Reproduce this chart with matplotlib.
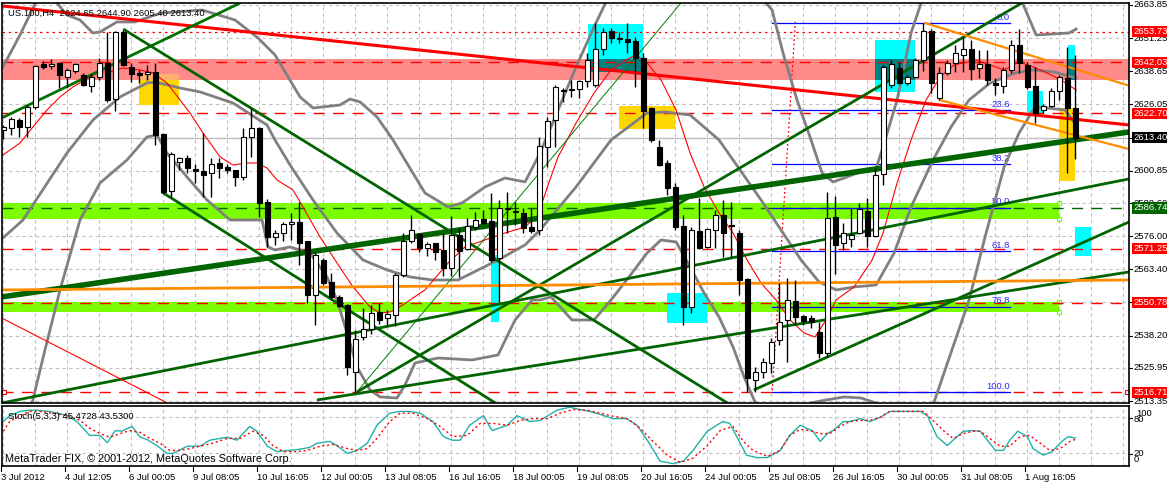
import numpy as np
import matplotlib.pyplot as plt
from matplotlib.patches import Rectangle

# ---- candles (US.100 H4), one value per bar ----
opens = [2616.35, 2617.0, 2620.15, 2617.5, 2625.1, 2641.4, 2640.7, 2641.8, 2636.6, 2638.9,
         2637.25, 2633.1, 2636.4, 2641.9, 2628.0, 2653.7, 2640.2, 2637.9, 2637.5, 2638.5,
         2614.8, 2593.3, 2604.3, 2605.6, 2601.4, 2600.9, 2599.9, 2603.9, 2602.4, 2601.15,
         2598.6, 2613.6, 2617.0, 2589.1, 2575.6, 2577.1, 2580.6, 2581.5, 2574.3, 2553.65,
         2566.95, 2558.7, 2552.8, 2549.85, 2524.4, 2537.6, 2540.6, 2547.3, 2544.8, 2546.05,
         2561.25, 2574.3, 2576.8, 2571.4, 2573.3, 2570.75, 2563.8, 2576.4, 2571.0, 2579.6,
         2582.5, 2581.8, 2567.6, 2586.2, 2585.7, 2584.7, 2579.6, 2578.35, 2610.0, 2620.15,
         2631.2, 2631.55, 2631.8, 2635.1, 2633.45, 2647.1, 2654.1, 2651.0, 2650.9, 2650.3,
         2643.6, 2624.7, 2610.0, 2603.8, 2594.7, 2579.9, 2549.1, 2578.0, 2571.9, 2578.35,
         2584.05, 2580.2, 2577.2, 2559.7, 2521.35, 2524.4, 2527.8, 2536.55, 2544.15, 2551.4,
         2545.7, 2544.9, 2539.6, 2531.6, 2583.3, 2573.4, 2574.9, 2577.2, 2585.6, 2576.1,
         2599.6, 2633.45, 2639.9, 2634.2, 2636.5, 2642.95, 2654.0, 2628.5, 2638.0, 2641.8,
         2644.85, 2647.1, 2639.9, 2641.4, 2634.2, 2633.1, 2639.15, 2648.65, 2641.05, 2633.1,
         2623.95, 2625.5, 2631.2, 2636.1, 2624.65]
highs = [2618.25, 2621.4, 2620.9, 2625.85, 2641.05, 2642.7, 2643.3, 2642.3, 2640.0, 2641.9,
         2638.1, 2637.6, 2643.6, 2653.7, 2654.1, 2654.35, 2641.9, 2639.15, 2641.05, 2641.7,
         2615.2, 2608.1, 2606.2, 2606.85, 2603.3, 2615.1, 2605.6, 2605.6, 2603.4, 2601.15,
         2617.0, 2624.6, 2617.6, 2590.0, 2578.35, 2581.5, 2584.7, 2589.1, 2574.3, 2570.1,
         2567.6, 2562.1, 2553.65, 2550.2, 2540.35, 2548.6, 2549.85, 2550.5, 2547.95, 2561.9,
         2577.1, 2584.05, 2577.2, 2573.9, 2573.3, 2577.2, 2583.65, 2579.1, 2582.9, 2585.3,
         2585.95, 2592.3, 2589.75, 2592.9, 2589.1, 2586.6, 2586.6, 2613.8, 2621.3, 2633.45,
         2632.3, 2635.35, 2635.35, 2645.6, 2657.0, 2655.1, 2655.1, 2653.6, 2657.0, 2651.8,
         2645.6, 2625.1, 2612.55, 2604.95, 2596.2, 2584.05, 2579.5, 2590.5, 2579.1, 2585.95,
         2589.75, 2589.0, 2578.35, 2560.1, 2526.3, 2529.7, 2537.3, 2558.2, 2560.1, 2559.35,
         2546.05, 2546.05, 2543.4, 2592.8, 2591.25, 2581.0, 2586.7, 2588.6, 2590.5, 2601.9,
         2641.05, 2642.95, 2642.2, 2637.25, 2643.7, 2657.0, 2654.7, 2640.3, 2642.95, 2648.65,
         2651.7, 2650.55, 2646.75, 2646.75, 2636.1, 2640.3, 2650.55, 2654.7, 2642.2, 2640.3,
         2626.2, 2632.3, 2637.25, 2647.9, 2644.90]
lows = [2612.9, 2614.45, 2613.7, 2613.8, 2624.3, 2639.5, 2639.5, 2632.3, 2632.8, 2638.1,
        2633.1, 2630.9, 2635.35, 2627.1, 2623.7, 2640.7, 2634.7, 2634.1, 2635.35, 2610.65,
        2592.3, 2591.0, 2601.15, 2600.1, 2596.3, 2591.0, 2590.8, 2598.0, 2600.1, 2595.1,
        2597.35, 2606.2, 2583.4, 2572.0, 2572.65, 2574.3, 2574.55, 2565.05, 2550.5, 2542.25,
        2557.45, 2551.75, 2549.0, 2523.25, 2516.8, 2536.55, 2538.8, 2542.6, 2541.9, 2541.9,
        2560.6, 2573.3, 2570.0, 2568.5, 2566.95, 2560.9, 2560.9, 2560.6, 2570.75, 2578.35,
        2580.8, 2566.3, 2551.1, 2577.1, 2580.25, 2577.1, 2577.1, 2576.45, 2602.3, 2609.9,
        2627.0, 2628.9, 2628.5, 2632.7, 2632.7, 2644.85, 2649.4, 2649.4, 2645.6, 2632.8,
        2617.1, 2611.8, 2602.5, 2591.7, 2578.35, 2542.25, 2546.8, 2571.0, 2571.5, 2571.5,
        2568.1, 2568.1, 2553.65, 2516.8, 2516.8, 2522.1, 2524.0, 2534.65, 2528.2, 2542.25,
        2542.25, 2541.1, 2529.7, 2530.1, 2561.65, 2570.75, 2571.9, 2576.8, 2571.9, 2575.7,
        2595.45, 2632.3, 2633.8, 2633.45, 2636.1, 2638.8, 2630.4, 2627.75, 2637.25, 2638.4,
        2638.4, 2635.35, 2636.1, 2633.45, 2629.65, 2630.4, 2638.0, 2638.0, 2631.9, 2619.0,
        2622.8, 2625.1, 2627.75, 2600.0, 2605.40]
closes = [2617.5, 2620.5, 2617.6, 2625.1, 2640.7, 2640.4, 2641.4, 2637.25, 2639.15, 2641.4,
          2633.45, 2636.5, 2641.9, 2627.75, 2653.7, 2641.05, 2637.6, 2637.25, 2638.5, 2614.45,
          2592.9, 2607.2, 2605.6, 2601.8, 2600.9, 2599.25, 2603.4, 2601.8, 2601.15, 2598.6,
          2613.6, 2617.0, 2588.5, 2575.8, 2577.1, 2580.6, 2581.5, 2573.5, 2553.65, 2568.85,
          2558.3, 2553.0, 2549.5, 2526.4, 2536.9, 2540.6, 2546.9, 2544.15, 2546.3, 2561.25,
          2574.3, 2578.35, 2571.4, 2573.0, 2570.1, 2563.8, 2576.4, 2570.5, 2579.9, 2582.15,
          2581.1, 2566.95, 2586.6, 2586.6, 2585.1, 2579.0, 2578.1, 2610.3, 2619.9, 2632.7,
          2631.4, 2631.6, 2635.1, 2642.95, 2647.1, 2653.6, 2651.2, 2650.9, 2649.9, 2643.6,
          2623.6, 2612.55, 2603.05, 2594.2, 2579.5, 2549.1, 2578.35, 2571.5, 2578.7, 2584.05,
          2577.2, 2580.0, 2559.35, 2522.1, 2524.4, 2528.2, 2535.8, 2543.4, 2551.75, 2545.3,
          2543.8, 2543.4, 2531.6, 2582.9, 2572.65, 2577.2, 2576.45, 2586.3, 2576.1, 2599.25,
          2640.3, 2641.4, 2634.2, 2636.5, 2642.95, 2654.0, 2634.2, 2638.0, 2641.8, 2645.6,
          2647.1, 2639.5, 2641.4, 2635.35, 2633.45, 2639.15, 2648.65, 2641.8, 2632.7, 2622.8,
          2625.5, 2631.2, 2636.5, 2624.7, 2613.40]

# ---- Bollinger bands (20,2) ----
bbu_x = [-0.04, 2.09, 4.21, 5.21, 6.71, 7.96, 9.59, 11.21, 12.09, 14.21, 16.46, 18.96, 19.84,
         24.84, 28.96, 31.84, 33.96, 37.09, 38.71, 42.09, 43.34, 44.59, 46.71, 48.71, 50.21,
         52.71, 55.59, 57.34, 60.21, 62.71, 65.21, 67.09, 69.34, 71.59, 73.84, 75.34, 79.59,
         87.09, 95.21, 96.09, 97.46, 99.21, 100.96, 102.34, 103.71, 105.46, 107.71, 109.09,
         109.96, 111.71, 113.46, 114.84, 119.59, 124.59, 127.34, 129.09, 133.21, 134.09]
bbu = [2640.3, 2652.45, 2665.75, 2670.3, 2664.6, 2660.05, 2658.15, 2653.2, 2653.6, 2657.4,
       2657.4, 2660.05, 2660.8, 2661.95, 2658.15, 2651.3, 2644.85, 2628.9, 2624.7, 2625.85,
       2628.1, 2627.0, 2621.3, 2612.55, 2604.95, 2592.4, 2587.1, 2588.6, 2594.7, 2598.1,
       2596.6, 2607.6, 2623.95, 2640.3, 2655.5, 2665.0, 2688.55, 2688.55, 2665.0, 2661.95,
       2645.6, 2627.75, 2612.55, 2600.0, 2596.6, 2598.5, 2601.15, 2601.9, 2609.9, 2627.75,
       2653.2, 2665.75, 2692.35, 2677.15, 2665.0, 2652.45, 2653.2, 2654.7]
bbm_x = [-0.04, 2.46, 7.96, 11.21, 14.59, 17.96, 18.96, 22.09, 24.59, 28.71, 32.96, 33.96,
         35.84, 38.71, 41.71, 44.96, 47.96, 50.84, 53.59, 56.84, 59.34, 61.84, 65.21, 67.09,
         71.59, 75.96, 80.46, 82.71, 85.84, 89.46, 92.09, 94.71, 97.46, 99.71, 101.96, 104.09,
         106.34, 109.09, 111.34, 113.46, 116.21, 118.46, 120.71, 123.34, 126.46, 128.71,
         131.34, 134.09]
bbm = [2575.3, 2582.15, 2607.6, 2620.15, 2628.9, 2634.2, 2634.6, 2632.3, 2630.8, 2626.6,
       2618.25, 2612.55, 2603.05, 2589.75, 2577.2, 2566.95, 2563.15, 2560.5, 2559.35, 2559.35,
       2563.15, 2566.95, 2572.65, 2578.35, 2594.7, 2612.55, 2622.8, 2623.2, 2622.05, 2612.55,
       2601.15, 2589.75, 2577.2, 2566.95, 2558.6, 2555.55, 2556.7, 2557.45, 2569.6, 2587.1,
       2604.95, 2617.5, 2627.75, 2634.2, 2638.0, 2639.15, 2638.4, 2636.1]
bbl_x = [3.09, 5.21, 7.09, 8.34, 9.59, 12.09, 15.46, 17.96, 19.21, 20.46, 22.96, 25.46,
         28.34, 32.34, 33.09, 33.96, 35.84, 38.34, 40.46, 41.71, 42.96, 44.21, 45.84, 47.09,
         49.21, 50.21, 51.46, 54.34, 58.59, 61.84, 63.96, 66.09, 67.09, 68.46, 71.09, 73.84,
         75.96, 78.21, 80.46, 82.21, 84.09, 85.84, 87.59, 89.46, 91.21, 92.59, 93.84, 95.21,
         98.34, 100.84, 102.84, 105.09, 107.21, 109.09, 112.09, 114.59, 116.21, 120.71,
         122.84, 125.09, 126.96, 128.96, 130.46, 132.71, 134.09]
bbl = [2506.15, 2532.75, 2555.55, 2568.85, 2582.15, 2596.2, 2604.95, 2613.7, 2614.45, 2607.6,
       2598.5, 2589.75, 2582.15, 2582.15, 2571.9, 2570.75, 2571.9, 2569.6, 2560.5, 2551.75,
       2539.2, 2526.3, 2517.55, 2514.9, 2514.5, 2519.45, 2527.8, 2529.7, 2528.95, 2530.85,
       2544.15, 2551.75, 2551.75, 2552.9, 2544.15, 2544.15, 2551.75, 2560.5, 2569.6, 2574.55,
       2573.8, 2564.3, 2554.4, 2545.3, 2533.9, 2522.5, 2513.75, 2506.15, 2506.15, 2512.6,
       2513.75, 2514.9, 2514.5, 2512.6, 2506.15, 2506.15, 2511.85, 2551.75, 2577.2, 2602.3,
       2615.2, 2625.1, 2624.7, 2623.95, 2618.25]

# ---- red moving average ----
ma_x = [-0.04, 2.09, 3.71, 5.46, 7.09, 8.71, 10.84, 12.09, 13.34, 14.96, 17.09, 18.71, 20.46,
        22.09, 23.34, 24.96, 26.21, 27.09, 28.71, 30.46, 31.71, 32.96, 34.21, 36.21, 37.09,
        39.59, 41.71, 43.71, 45.84, 47.09, 48.34, 49.96, 50.84, 52.71, 55.59, 57.71, 60.21,
        62.71, 65.21, 66.84, 68.09, 69.34, 71.59, 73.84, 75.96, 77.84, 79.09, 80.46, 82.21,
        84.09, 85.84, 87.59, 89.46, 91.21, 92.96, 94.71, 96.59, 98.34, 100.09, 101.46, 102.84,
        104.09, 106.34, 108.59, 109.96, 111.71, 113.46, 115.34, 117.09, 118.84, 121.59,
        123.34, 125.09, 126.96, 128.71, 130.46, 132.21, 134.09]
ma = [2606.85, 2611.4, 2617.5, 2623.95, 2628.9, 2632.7, 2636.5, 2638.4, 2638.4, 2639.9,
      2639.15, 2638.0, 2634.2, 2627.75, 2622.8, 2615.2, 2609.9, 2606.1, 2603.05, 2603.8,
      2603.8, 2601.9, 2597.35, 2593.55, 2589.0, 2575.7, 2565.8, 2556.7, 2549.1, 2546.8,
      2547.2, 2549.85, 2551.75, 2555.55, 2565.8, 2571.9, 2574.55, 2577.2, 2579.5, 2584.05,
      2595.45, 2606.1, 2619.0, 2630.4, 2639.15, 2642.95, 2644.85, 2641.8, 2635.35, 2623.95,
      2607.6, 2594.7, 2584.8, 2577.2, 2566.95, 2558.2, 2551.75, 2544.15, 2539.2, 2537.7,
      2544.15, 2551.75, 2556.7, 2566.95, 2577.2, 2596.2, 2612.55, 2627.75, 2636.5, 2641.05,
      2642.95, 2641.05, 2639.15, 2642.2, 2640.3, 2638.0, 2635.35, 2631.55]

# ---- Stochastic (5,3,3) ----
k_x = [0, 0.8, 2.1, 3.3, 4.2, 5.8, 8.0, 9.2, 10.8, 12.1, 13.0, 14.0, 14.8, 16.1, 17.1, 18.0,
       19.2, 20.5, 21.2, 23.0, 24.6, 25.8, 28.0, 29.2, 30.8, 31.7, 33.0, 34.2, 35.8, 37.1,
       38.3, 39.2, 40.8, 41.7, 43.0, 44.2, 45.5, 46.7, 48.3, 49.6, 50.8, 52.1, 53.7, 55.0,
       56.1, 57.1, 58.3, 60.0, 61.1, 63.0, 64.2, 65.8, 67.1, 69.2, 70.8, 72.1, 73.3, 74.6,
       76.2, 77.9, 79.2, 80.5, 82.1, 83.7, 85.0, 86.2, 88.0, 89.9, 90.8, 92.9, 94.2, 95.5,
       97.1, 98.3, 99.6, 101.2, 102.1, 103.0, 103.7, 105.0, 105.8, 107.1, 108.3, 109.6,
       110.8, 111.7, 113.0, 114.6, 115.5, 116.7, 118.0, 118.7, 120.0, 121.1, 122.1, 123.0,
       124.0, 125.0, 125.8, 126.8, 128.0, 128.7, 130.0, 131.1, 132.3, 133.1, 134]
k = [73, 83, 90, 92, 92, 90, 83, 73, 50, 50, 38, 58, 57, 65, 47, 43, 33, 20, 20, 32,
     32, 42, 47, 42, 65, 57, 32, 23, 25, 27, 30, 37, 40, 33, 20, 25, 37, 67, 87, 90,
     90, 87, 73, 48, 42, 42, 67, 83, 58, 67, 83, 73, 75, 92, 97, 93, 90, 85, 78, 78,
     67, 42, 7, 3, 7, 25, 57, 73, 70, 17, 13, 13, 25, 50, 67, 57, 40, 53, 58, 73,
     73, 78, 73, 80, 90, 90, 90, 90, 83, 48, 33, 42, 57, 58, 57, 42, 25, 25, 42, 57,
     48, 28, 17, 23, 40, 48, 45.5]
d_x = [0, 0.8, 2.1, 3.3, 4.6, 6.2, 8.0, 9.6, 10.8, 12.1, 13.3, 14.6, 15.8, 17.1, 18.3, 19.6,
       20.8, 22.1, 23.3, 24.6, 26.2, 28.0, 29.6, 31.2, 32.5, 33.7, 35.0, 36.7, 38.0, 39.6,
       41.2, 43.0, 44.2, 45.5, 46.7, 48.3, 49.6, 51.2, 53.0, 54.6, 56.2, 58.0, 59.6, 61.2,
       63.0, 64.6, 66.2, 68.0, 69.6, 71.2, 73.0, 74.6, 76.2, 78.0, 79.6, 81.2, 83.0, 84.6,
       86.2, 88.0, 89.6, 91.2, 92.5, 93.7, 95.5, 97.1, 98.3, 99.6, 100.8, 102.1, 103.3,
       104.6, 105.8, 107.1, 108.3, 109.6, 110.8, 112.1, 113.3, 115.0, 116.2, 117.5, 118.7,
       120.0, 121.2, 122.1, 123.3, 124.6, 125.8, 127.1, 128.3, 129.6, 130.8, 132.1, 133.3, 134]
d = [57, 73, 83, 90, 90, 87, 83, 75, 62, 53, 47, 53, 58, 55, 45, 37, 25, 25, 28, 32,
     37, 45, 45, 57, 50, 33, 23, 23, 25, 32, 35, 28, 25, 28, 45, 73, 87, 87, 78, 65,
     48, 50, 70, 70, 67, 75, 78, 78, 87, 93, 92, 87, 82, 78, 62, 40, 17, 5, 12, 33,
     58, 65, 40, 25, 15, 25, 50, 60, 58, 53, 53, 65, 73, 75, 75, 80, 90, 90, 90, 90,
     75, 58, 45, 53, 57, 57, 45, 32, 32, 48, 50, 37, 25, 28, 40, 43.5]

# ---- levels / labels ----
price_ticks = [2663.85, 2651.25, 2638.65, 2626.05, 2613.40, 2600.85, 2588.60, 2576.00,
               2563.40, 2550.80, 2538.20, 2525.95, 2513.35]
red_levels = [2642.03, 2622.70, 2571.25, 2550.78, 2516.71]
dotted_level = 2653.73
green_level = 2586.74
bid = 2613.40
fib_hi, fib_lo = 2656.9, 2516.71
fib_levels = [0.0, 23.6, 38.2, 50.0, 61.8, 76.8, 100.0]
stoch_labels = ["100", "80", "20", "0"]
date_labels = ["3 Jul 2012", "4 Jul 12:05", "6 Jul 00:05", "9 Jul 08:05", "10 Jul 16:05",
               "12 Jul 00:05", "13 Jul 08:05", "16 Jul 16:05", "18 Jul 00:05", "19 Jul 08:05",
               "20 Jul 16:05", "24 Jul 00:05", "25 Jul 08:05", "26 Jul 16:05", "30 Jul 00:05",
               "31 Jul 08:05", "1 Aug 16:05"]

# trend lines: (bar0, price0, bar1, price1, colour, width)
trend_lines = [
    (-0.2, 2663.5, 140.7, 2618.25, "#ff0000", 2.2),
    (-0.2, 2552.9, 140.7, 2615.6, "#006400", 4.0),
    (-0.2, 2620.9, 29.6, 2664.6, "#007000", 2.0),
    (15.0, 2654.7, 92.1, 2509.6, "#006400", 2.0),
    (-0.2, 2512.6, 140.7, 2597.75, "#006400", 2.0),
    (19.8, 2592.8, 61.5, 2512.6, "#006400", 2.0),
    (44.2, 2516.8, 84.7, 2664.6, "#008000", 0.7),
    (44.2, 2516.8, 127.3, 2664.6, "#006400", 2.0),
    (39.2, 2513.75, 140.7, 2562.4, "#006400", 2.0),
    (93.8, 2517.55, 140.7, 2581.4, "#006400", 2.0),
    (-0.2, 2555.55, 140.7, 2559.35, "#ff8c00", 2.0),
    (115.1, 2657.1, 140.7, 2633.2, "#ff8c00", 1.6),
    (117.0, 2627.75, 140.7, 2609.1, "#ff8c00", 1.6),
    (-0.2, 2544.9, 20.5, 2512.6, "#ff0000", 0.8),
]

# rectangles: (bar0, bar1, price_lo, price_hi, colour)
rects = [
    (16.96, 21.96, 2625.85, 2637.6, "#ffd700"),
    (16.96, 21.96, 2635.35, 2637.6, "#ffb070"),
    (76.96, 83.96, 2616.75, 2625.5, "#ffd700"),
    (131.96, 133.96, 2596.95, 2624.7, "#ffd700"),
    (73.03, 79.95, 2638.5, 2656.6, "#00ffff"),
    (73.03, 79.95, 2638.5, 2643.3, "#008080"),
    (108.96, 113.96, 2630.9, 2650.55, "#00ffff"),
    (108.96, 113.96, 2635.35, 2643.3, "#008080"),
    (60.96, 61.96, 2543.4, 2568.85, "#00ffff"),
    (82.96, 87.96, 2543.0, 2554.4, "#00ffff"),
    (128.0, 129.96, 2622.7, 2631.3, "#00ffff"),
    (133.1, 134.0, 2635.35, 2648.65, "#00ffff"),
    (133.1, 134.0, 2635.35, 2643.3, "#008080"),
    (133.96, 135.96, 2568.5, 2579.5, "#00ffff"),
]

W, H = 1167, 483
fig = plt.figure(figsize=(W / 100, H / 100), dpi=100)
plt.rcParams['font.family'] = ['Liberation Sans', 'DejaVu Sans']


def px_axes(x0, y0, x1, y1):
    return fig.add_axes([x0 / W, 1 - y1 / H, (x1 - x0) / W, (y1 - y0) / H])


ax = px_axes(2, 3, 1129, 403)
ax2 = px_axes(2, 406, 1129, 466)
XL = (-0.16, 140.7)
YL = (2512.6, 2664.6)
ax.set_xlim(*XL)
ax.set_ylim(*YL)
ax2.set_xlim(*XL)
ax2.set_ylim(-1, 99)

grid_kw = dict(color="#c0c0c0", lw=0.8, ls=(0, (3, 3)), zorder=0)
for a in (ax, ax2):
    for gx in range(0, 141, 4):
        a.axvline(gx - 0.04, **grid_kw)
    a.set_xticks([])
    a.set_yticks([])
    for s in a.spines.values():
        s.set_linewidth(1.2)
        s.set_zorder(20)
for p in price_ticks:
    ax.axhline(p, **grid_kw)
for v in (20, 80):
    ax2.axhline(v, **grid_kw)

# zones
ax.axhspan(2635.35, 2643.3, color="#ff8a8a", lw=0, zorder=1)
for lo, hi in [(2582.5, 2588.6), (2547.2, 2550.97)]:
    ax.add_patch(Rectangle((-0.2, lo), 132.16, hi - lo, color="#7cfc00", lw=0, zorder=1))
    ax.plot([131.96, 131.96], [lo, hi], ls="none", marker="s", ms=3.5, mfc="none",
            mec="#7cfc00", mew=0.8, zorder=1)
for b0, b1, lo, hi, col in rects:
    ax.add_patch(Rectangle((b0, lo), b1 - b0, hi - lo, color=col, lw=0, zorder=1.2))

# horizontal levels
ax.axhline(bid, color="#c0c0c0", lw=1.0, zorder=1.5)
ax.axhline(dotted_level, color="#ff0000", lw=0.9, ls=(0, (2, 3)), zorder=2)
for lv in red_levels:
    ax.axhline(lv, color="#ff0000", lw=1.0, ls=(0, (8, 6)), zorder=2)
ax.axhline(green_level, color="#006400", lw=1.0, ls=(0, (8, 6)), zorder=2)
ax.plot([0.05, 140.4], [2516.71, 2516.71], ls="none", marker="s", ms=3.5, mfc="white",
        mec="#ff0000", mew=0.8, zorder=2)

# fibonacci retracement
for lv in fib_levels:
    fp = fib_hi - (fib_hi - fib_lo) * lv / 100
    ax.plot([96.1, 125.8], [fp, fp], color="#0000ff", lw=0.9, zorder=2.5)
    ax.text(125.8, fp + 0.6, "%.1f" % lv, color="#2828ff", fontsize=6.8,
            ha="right", va="bottom", zorder=2.5)
ax.plot([99.0, 96.1], [2657.5, 2516.4], color="#ff0000", lw=0.9, ls=(0, (1.5, 2)), zorder=2.5)

# indicators
ax.plot(bbu_x, bbu, color="#808080", lw=2, zorder=3)
ax.plot(bbm_x, bbm, color="#808080", lw=2, zorder=3)
ax.plot(bbl_x, bbl, color="#808080", lw=2, zorder=3)
ax.plot(ma_x, ma, color="#ff0000", lw=0.8, zorder=3)

for b0, p0, b1, p1, col, lw in trend_lines:
    ax.plot([b0, b1], [p0, p1], color=col, lw=lw, zorder=4, solid_capstyle="butt")

# candles
idx = np.arange(len(opens))
o = np.array(opens)
c = np.array(closes)
ax.vlines(idx, lows, highs, color="black", lw=1.0, zorder=5)
up = c >= o
ax.bar(idx[up], np.maximum((c - o)[up], 0.3), bottom=o[up], width=0.62, color="white",
       edgecolor="black", lw=0.8, zorder=6)
ax.bar(idx[~up], np.maximum((o - c)[~up], 0.3), bottom=c[~up], width=0.62, color="black",
       edgecolor="black", lw=0.8, zorder=6)

# stochastic
ax2.plot(k_x, k, color="#20b2aa", lw=1.0)
ax2.plot(d_x, d, color="#ff0000", lw=1.0, ls=(0, (1.5, 2)))

# texts
ax.text(0.0055, 0.985, "US.100,H4  2624.65 2644.90 2605.40 2613.40", transform=ax.transAxes,
        fontsize=6.8, va="top", ha="left", color="#000000", zorder=10)
ax2.text(0.005, 0.9, "Stoch(5,3,3) 45.4728 43.5300", transform=ax2.transAxes,
         fontsize=6.8, va="top", ha="left")
ax2.text(0.003, 0.04, "MetaTrader FIX, \u00a9 2001-2012, MetaQuotes Software Corp.",
         transform=ax2.transAxes, fontsize=7.8, va="bottom", ha="left")

span = YL[1] - YL[0]
for p in price_ticks:
    ax.text(1.004, (p - YL[0]) / span, "%.2f" % p, transform=ax.transAxes,
            fontsize=6.8, va="center", ha="left", clip_on=False)
    ax.plot([1.0, 1.003], [(p - YL[0]) / span] * 2, transform=ax.transAxes, color="black",
            lw=0.8, clip_on=False)
for lv, bg in [(dotted_level, "#ff0000"), (2642.03, "#ff0000"), (2622.70, "#ff0000"),
               (bid, "#000000"), (green_level, "#006400"), (2571.25, "#ff0000"),
               (2550.78, "#ff0000"), (2516.71, "#ff0000")]:
    ax.text(1.004, (lv - YL[0]) / span, "%.2f" % lv, transform=ax.transAxes,
            fontsize=6.8, va="center", ha="left", color="white", clip_on=False,
            bbox=dict(boxstyle="square,pad=0.12", fc=bg, ec="none"))
# stochastic scale labels sit where the terminal draws them (pairs overlap)
for lab, fy, fx in zip(stoch_labels, [0.883, 0.783, 0.2, 0.1],
                       [1.0065, 1.004, 1.004, 1.004]):
    ax2.text(fx, fy, lab, transform=ax2.transAxes, fontsize=6.8,
             va="center", ha="left", clip_on=False)
for fy in (0.8, 0.2):
    ax2.plot([1.0, 1.003], [fy, fy], transform=ax2.transAxes, color="black", lw=0.8,
             clip_on=False)

for i, lab in enumerate(date_labels):
    b = i * 8 - 0.29
    fx = (b - XL[0]) / (XL[1] - XL[0])
    ax2.text(fx, -0.12, lab, transform=ax2.transAxes, fontsize=6.8, va="top", ha="left")
    ax2.plot([fx, fx], [-0.08, 0], transform=ax2.transAxes, color="black", lw=0.8,
             clip_on=False)

fig.savefig("out.png", dpi=100)
